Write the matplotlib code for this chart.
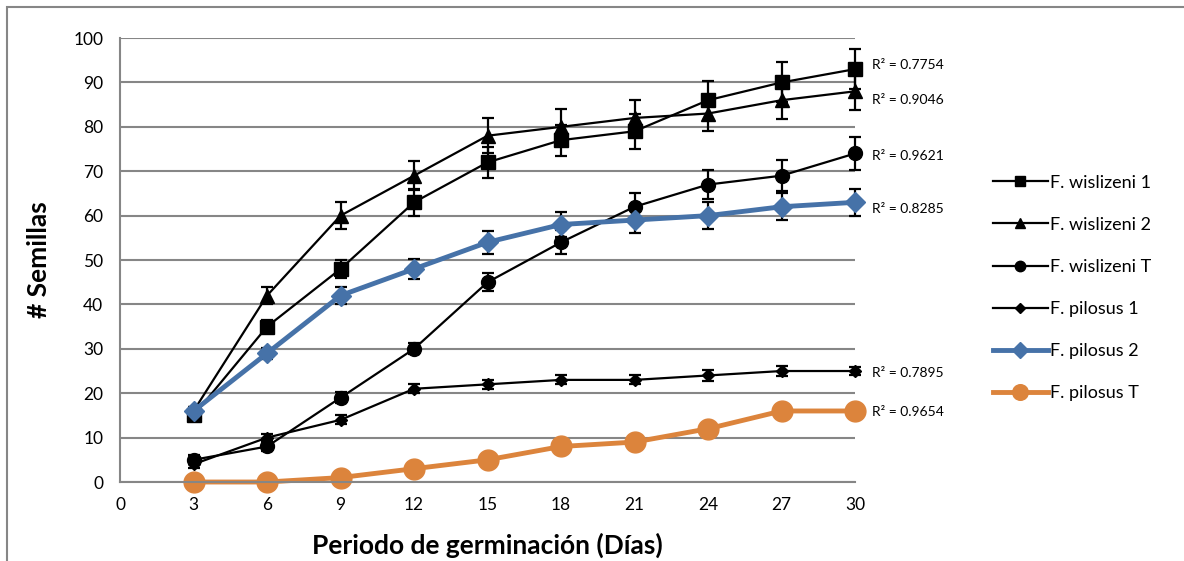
import matplotlib.pyplot as plt
from matplotlib.patches import Rectangle

plt.rcParams['font.family'] = ['Lato', 'DejaVu Sans']

dias = [3, 6, 9, 12, 15, 18, 21, 24, 27, 30]

series_names = ['F. wislizeni 1', 'F. wislizeni 2', 'F. wislizeni T',
                'F. pilosus 1', 'F. pilosus 2', 'F. pilosus T']

wis1 = [15, 35, 48, 63, 72, 77, 79, 86, 90, 93]
wis1_err = [1, 1.5, 2, 3, 3.5, 3.5, 4, 4.4, 4.5, 4.5]
wis2 = [16, 42, 60, 69, 78, 80, 82, 83, 86, 88]
wis2_err = [1, 2, 3, 3.2, 4, 4, 4, 4, 4.3, 4.3]
wisT = [5, 8, 19, 30, 45, 54, 62, 67, 69, 74]
wisT_err = [1, 1, 1.2, 1.2, 2, 2.7, 3, 3.2, 3.5, 3.7]
pil1 = [4, 10, 14, 21, 22, 23, 23, 24, 25, 25]
pil1_err = [0.8, 0.8, 1, 1, 1, 1, 1, 1.2, 1.2, 1]
pil2 = [16, 29, 42, 48, 54, 58, 59, 60, 62, 63]
pil2_err = [1, 1.2, 2, 2.3, 2.6, 2.8, 3, 3, 3, 3]
pilT = [0, 0, 1, 3, 5, 8, 9, 12, 16, 16]

r2_labels = ['0.7754', '0.9046', '0.9621', '0.8285', '0.7895', '0.9654']
r2_y = [94, 86, 73.5, 61.5, 24.5, 15.8]

fig = plt.figure(figsize=(11.84, 5.61), dpi=100)
ax = fig.add_axes([0.1014, 0.1408, 0.6208, 0.7914])

# outer border like the excel chart frame
fig.patches.append(Rectangle((7 / 1184, -0.1), 1.2, 1 - 7 / 561 + 0.1,
                             transform=fig.transFigure, fill=False,
                             edgecolor='#868686', lw=1.5))

black = dict(color='black', lw=1.6, ecolor='black', elinewidth=1.6,
             capsize=4, capthick=1.6, clip_on=False)
handles = []
h = ax.errorbar(dias, wis1, yerr=wis1_err, marker='s', ms=9.5, **black)
handles.append(h.lines[0])
h = ax.errorbar(dias, wis2, yerr=wis2_err, marker='^', ms=10, **black)
handles.append(h.lines[0])
h = ax.errorbar(dias, wisT, yerr=wisT_err, marker='o', ms=10, **black)
handles.append(h.lines[0])
h = ax.errorbar(dias, pil1, yerr=pil1_err, marker='D', ms=6.5, **black)
handles.append(h.lines[0])
h = ax.errorbar(dias, pil2, yerr=pil2_err, marker='D', ms=10.5,
                color='#4672A8', lw=3.5, ecolor='black', elinewidth=1.6,
                capsize=4, capthick=1.6, clip_on=False)
handles.append(h.lines[0])
h, = ax.plot(dias, pilT, marker='o', ms=15, color='#DC843C', lw=3.5,
             clip_on=False)
handles.append(h)

for lab, yy in zip(r2_labels, r2_y):
    ax.text(30.7, yy, 'R² = ' + lab, fontsize=10, va='center',
            ha='left', clip_on=False)

ax.set_xlim(0, 30)
ax.set_ylim(0, 100)
ax.set_xticks(range(0, 31, 3))
ax.set_yticks(range(0, 101, 10))
ax.tick_params(length=0, labelsize=12.5)
ax.tick_params(axis='y', pad=12)
ax.tick_params(axis='x', pad=11)
ax.grid(axis='y', color='#868686', lw=1.5)
ax.set_axisbelow(True)
for s in ['top', 'right']:
    ax.spines[s].set_visible(False)
for s in ['left', 'bottom']:
    ax.spines[s].set_color('#868686')
    ax.spines[s].set_linewidth(1.5)

ax.set_xlabel('Periodo de germinación (Días)', fontsize=19,
              fontweight='bold', labelpad=14)
ax.set_ylabel('# Semillas', fontsize=19, fontweight='bold', labelpad=16)

leg = ax.legend(handles, series_names, loc='center left',
                bbox_to_anchor=(1.165, 0.437), frameon=False, fontsize=13,
                handlelength=3.05, labelspacing=1.45, handletextpad=0.15,
                markerscale=0.75)

fig.savefig('out.png', dpi=100)
